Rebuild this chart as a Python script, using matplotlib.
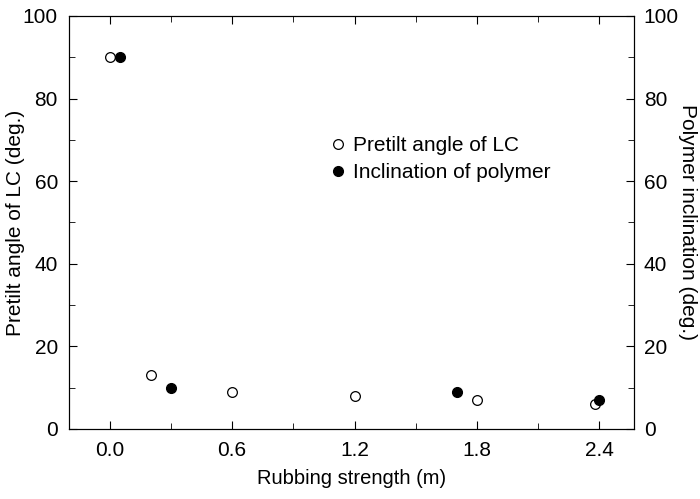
import numpy as np
import matplotlib.pyplot as plt
from matplotlib.ticker import MultipleLocator

plt.rcParams['font.family'] = ['Liberation Sans', 'DejaVu Sans']

# 数据
lc_x = [0.0, 0.2, 0.6, 1.2, 1.8, 2.38]
lc_y = [90, 13, 9, 8, 7, 6]
poly_x = [0.05, 0.3, 1.7, 2.4]
poly_y = [90, 10, 9, 7]
x_ticks = [0.0, 0.6, 1.2, 1.8, 2.4]

fig = plt.figure(figsize=(7, 4.99), dpi=100)
ax = fig.add_axes([69 / 700, 1 - 429 / 499, 565 / 700, 413 / 499])

ax.plot(lc_x, lc_y, 'o', mfc='white', mec='black', mew=0.9, ms=7,
        label='Pretilt angle of LC')
ax.plot(poly_x, poly_y, 'o', mfc='black', mec='black', ms=7,
        label='Inclination of polymer')

ax.set_xlim(-0.2, 2.57)
ax.set_ylim(0, 100)
ax.set_xticks(x_ticks)
ax.set_xticklabels([f'{v:.1f}' for v in x_ticks])
ax.xaxis.set_minor_locator(MultipleLocator(0.3))
ax.yaxis.set_major_locator(MultipleLocator(20))
ax.yaxis.set_minor_locator(MultipleLocator(10))
ax.tick_params(which='both', direction='in', top=True, labelsize=15)
ax.tick_params(which='major', length=6)
ax.tick_params(which='minor', length=4)
ax.tick_params(axis='y', pad=8)
ax.tick_params(axis='x', pad=9)
ax.set_xlabel('Rubbing strength (m)', fontsize=14.5, labelpad=6)
ax.set_ylabel('Pretilt angle of LC (deg.)', fontsize=15, va='center')
ax.yaxis.set_label_coords(-0.094, 0.5)

ax2 = ax.twinx()
ax2.set_ylim(0, 100)
ax2.yaxis.set_major_locator(MultipleLocator(20))
ax2.yaxis.set_minor_locator(MultipleLocator(10))
ax2.tick_params(which='both', direction='in', labelsize=15, pad=7)
ax2.tick_params(which='major', length=6)
ax2.tick_params(which='minor', length=4)
ax2.set_ylabel('Polymer inclination (deg.)', fontsize=15, rotation=270,
               va='center')
ax2.yaxis.set_label_coords(1.094, 0.5)

ax.legend(loc='upper left', bbox_to_anchor=(0.44, 0.73), frameon=False,
          fontsize=15, handletextpad=0.1, borderaxespad=0, labelspacing=0.4,
          handlelength=1.2)

fig.savefig('out.png', dpi=100)
